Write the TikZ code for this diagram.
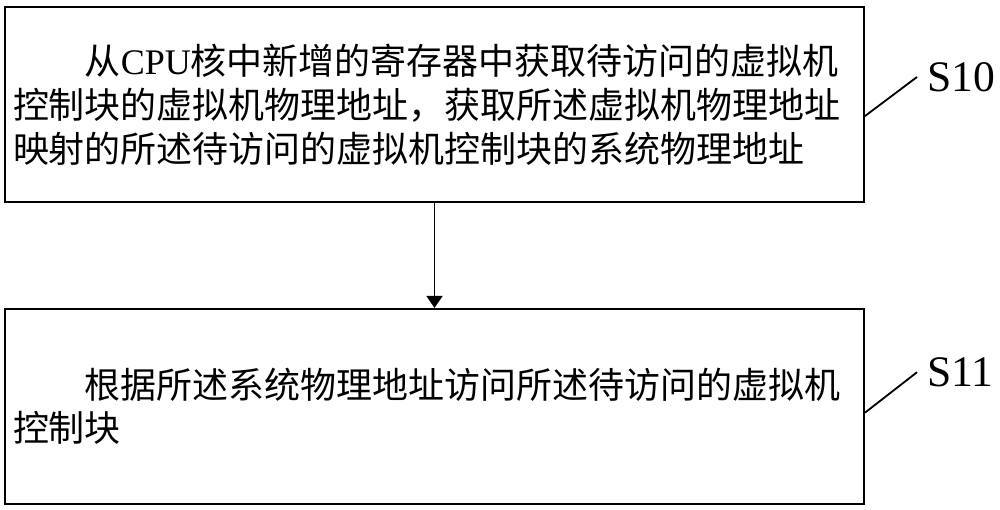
\documentclass[tikz,border=0pt]{standalone}
\usepackage{fontspec}
\setmainfont{Liberation Serif}
\newfontfamily\cjk{Noto Sans CJK SC}
\usetikzlibrary{positioning,arrows.meta}

\begin{document}
\begin{tikzpicture}[
    stepbox/.style={draw, line width=1.3pt, minimum width=21.475cm, minimum height=4.875cm,
        text width=21.075cm, inner xsep=0.2cm, align=left,
        font=\cjk\fontsize{25.6}{31.2}\selectfont},
    steplabel/.style={anchor=west, inner sep=0.25cm, font=\fontsize{31}{36}\selectfont},
    leader/.style={line width=1.3pt}
]
    \useasboundingbox (0, 0) rectangle (25, 12.725);
    % The two steps of the method.
    \node[stepbox] (box1) at (10.8625, 10.1125) {\hspace*{2em}从{\rmfamily CPU}核中新增的寄存器中获取待访问的虚拟机\\
        控制块的虚拟机物理地址，获取所述虚拟机物理地址\\
        映射的所述待访问的虚拟机控制块的系统物理地址};
    \node[stepbox, below=2.625cm of box1] (box2) {\hspace*{2em}根据所述系统物理地址访问所述待访问的虚拟机\\
        控制块};
    \draw[line width=1.4pt, -{Triangle[length=0.3cm, width=0.4cm]}] (box1) -- (box2);
    % Step numbers with their leader lines.
    \node[steplabel] (s10) at (22.925, 10.8) {S10};
    \node[steplabel] (s11) at (22.925, 3.42) {S11};
    \coordinate (l10) at ([yshift=-0.29cm]box1.east);
    \coordinate (l11) at ([yshift=-0.16cm]box2.east);
    \draw[leader] (l10) -- (s10.west);
    \draw[leader] (l11) -- (s11.west);
\end{tikzpicture}
\end{document}
